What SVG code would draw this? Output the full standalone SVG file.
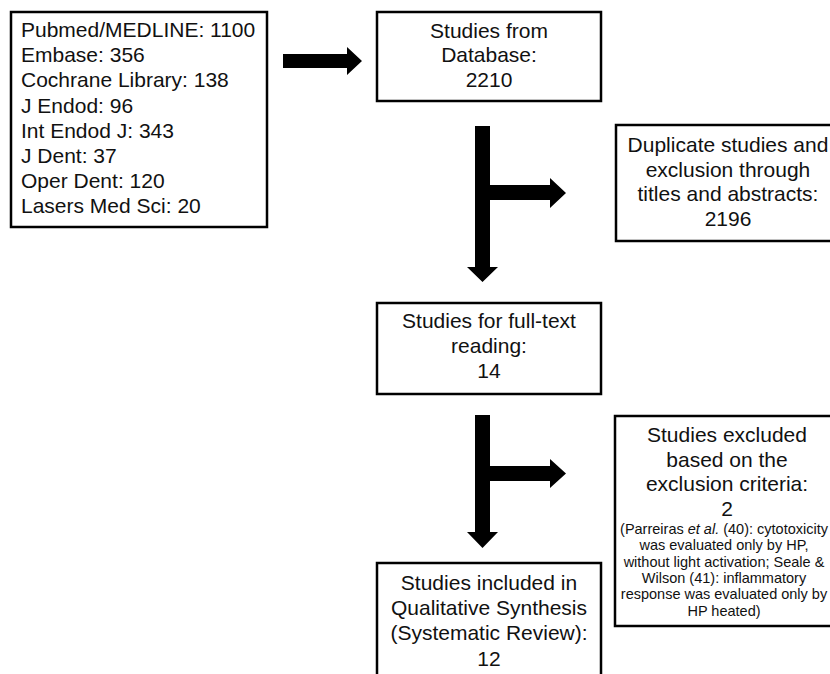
<svg xmlns="http://www.w3.org/2000/svg" width="830" height="674" viewBox="0 0 830 674">
<style>
.box{fill:#fff;stroke:#000;stroke-width:2.5}
text{font-family:"Liberation Sans",Arial,sans-serif;font-size:21px;fill:#111}
.c{text-anchor:middle}
.s{font-size:14.5px}
.arrow{fill:#000;stroke:none}
</style>
<rect width="830" height="674" fill="#fff"/>
<g id="sources">
<rect class="box" x="11" y="12" width="256" height="215"/>
<text x="21" y="37">Pubmed/MEDLINE: 1100</text>
<text x="21" y="62.2">Embase: 356</text>
<text x="21" y="87.4">Cochrane Library: 138</text>
<text x="21" y="112.6">J Endod: 96</text>
<text x="21" y="137.8">Int Endod J: 343</text>
<text x="21" y="163">J Dent: 37</text>
<text x="21" y="188.2">Oper Dent: 120</text>
<text x="21" y="213.4">Lasers Med Sci: 20</text>
</g>
<g id="database">
<rect class="box" x="377" y="12" width="224" height="89"/>
<text class="c" x="489" y="38">Studies from</text>
<text class="c" x="489" y="62">Database:</text>
<text class="c" x="489" y="87">2210</text>
</g>
<g id="duplicates">
<rect class="box" x="616" y="125" width="230" height="116"/>
<text class="c" x="728" y="152">Duplicate studies and</text>
<text class="c" x="728" y="177">exclusion through</text>
<text class="c" x="728" y="201">titles and abstracts:</text>
<text class="c" x="728" y="226">2196</text>
</g>
<g id="fulltext">
<rect class="box" x="377" y="303" width="224" height="91"/>
<text class="c" x="489" y="328">Studies for full-text</text>
<text class="c" x="489" y="353">reading:</text>
<text class="c" x="489" y="378">14</text>
</g>
<g id="excluded">
<rect class="box" x="615" y="416" width="230" height="210"/>
<text class="c" x="727" y="442">Studies excluded</text>
<text class="c" x="727" y="467">based on the</text>
<text class="c" x="727" y="491">exclusion criteria:</text>
<text class="c" x="727" y="516">2</text>
<text class="c s" x="724" y="534">(Parreiras <tspan font-style="italic">et al.</tspan> (40): cytotoxicity</text>
<text class="c s" x="724" y="550.3">was evaluated only by HP,</text>
<text class="c s" x="724" y="566.6">without light activation; Seale &amp;</text>
<text class="c s" x="724" y="583">Wilson (41): inflammatory</text>
<text class="c s" x="724" y="599.3">response was evaluated only by</text>
<text class="c s" x="724" y="615.6">HP heated)</text>
</g>
<g id="included">
<rect class="box" x="377" y="563" width="224" height="130"/>
<text class="c" x="489" y="590">Studies included in</text>
<text class="c" x="489" y="615">Qualitative Synthesis</text>
<text class="c" x="489" y="640">(Systematic Review):</text>
<text class="c" x="489" y="666">12</text>
</g>
<g id="connectors">
<polygon class="arrow" points="283,54 347,54 347,47 362,61 347,75 347,68 283,68"/>
<polygon class="arrow" points="475,126 490,126 490,185 550,185 550,178 566,193 550,208 550,200 490,200 490,267 498,267 482.5,282 467,267 475,267"/>
<polygon class="arrow" points="475,415 490,415 490,466 550,466 550,459 566,473.5 550,488 550,481 490,481 490,532 498,532 482.5,548 467,532 475,532"/>
</g>
</svg>
